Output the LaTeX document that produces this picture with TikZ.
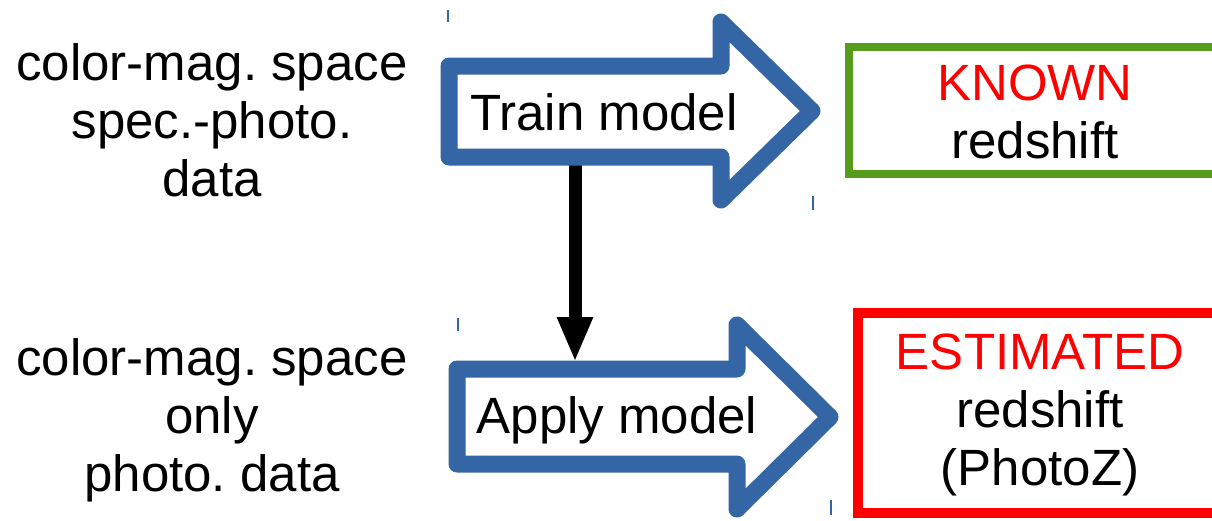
\documentclass[tikz,border=0pt]{standalone}
\usepackage{fontspec}
\setmainfont{Liberation Sans}
\usetikzlibrary{arrows.meta}
\definecolor{arrblue}{HTML}{3465A4}
\definecolor{boxgreen}{HTML}{579D1C}
\definecolor{boxred}{HTML}{FF0000}
\frenchspacing
\begin{document}
\begin{tikzpicture}[x=1pt,y=-1pt,
  big/.style={font=\fontsize{51}{58}\selectfont, inner sep=0pt, align=center},
  blockarrow/.style={draw=arrblue, line width=17pt, line join=round, fill=white},
  tick/.style={draw=arrblue, line width=1.8pt},
  flow/.style={draw=black, line width=13pt, -{Triangle[width=33pt,length=45pt]}}]
\clip (0,0) rectangle (1212,520);
\fill[white] (0,0) rectangle (1212,520);

% tick marks
\draw[tick] (448,10) -- (448,22);
\draw[tick] (813,196) -- (813,210);
\draw[tick] (458,318) -- (458,331);
\draw[tick] (831,500) -- (831,515);

% vertical black connector
\coordinate (trainbottom) at (575,157);
\coordinate (applytop) at (575,362);
\draw[flow] (trainbottom) -- (applytop);

% block arrows
\draw[blockarrow] (449,66) -- (721,66) -- (721,22) -- (812,111) -- (721,200) -- (721,157) -- (449,157) -- cycle;
\draw[blockarrow] (457,369) -- (737,369) -- (737,325) -- (830,417) -- (737,509) -- (737,464) -- (457,464) -- cycle;

% arrow labels
\node[big] (train) at (604,112) {Train model};
\node[big] (apply) at (617,420) {Apply model};

% left texts
\node[big] (intop) at (212,120) {color-mag. space\\spec.-photo.\\data};
\node[big] (inbot) at (212,420) {color-mag. space\\only\\photo. data};

% result boxes
\draw[draw=boxgreen, line width=8pt] (849,47) rectangle (1230,174);
\draw[draw=boxred, line width=10pt] (858,313) rectangle (1230,513);
\node[big] (known) at (1035,112) {\textcolor{boxred}{KNOWN}\\redshift};
\node[big] (estim) at (1040,415) {\textcolor{boxred}{ESTIMATED}\\redshift\\(PhotoZ)};
\end{tikzpicture}
\end{document}
